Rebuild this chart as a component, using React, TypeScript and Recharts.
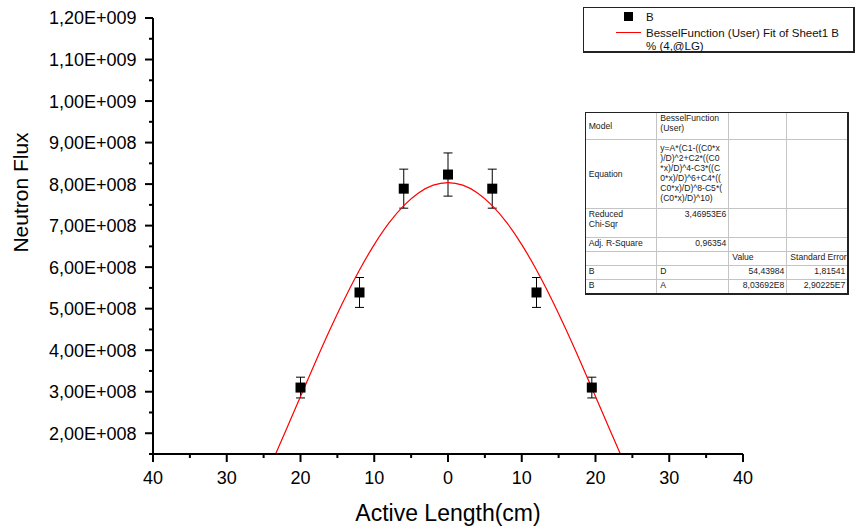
import React from "react";
import {
  ComposedChart,
  Scatter,
  Line,
  XAxis,
  YAxis,
  ErrorBar,
} from "recharts";

// measured flux points (position along the core, flux, error)
const pointX = [-20, -12, -6, 0, 6, 12, 19.5];
const pointY = [3.1e8, 5.39e8, 7.89e8, 8.23e8, 7.89e8, 5.39e8, 3.1e8];
const pointErr = [2.5e7, 3.6e7, 4.7e7, 5.2e7, 4.7e7, 3.6e7, 2.5e7];

// Bessel fit curve
const fitX = [-24, -22, -20, -18, -16, -14, -12, -10, -8, -6, -4, -2, 0, 2, 4, 6, 8, 10, 12, 14, 16, 18, 20, 22, 24];
const fitY = [
  1.246e8, 2.061e8, 2.887e8, 3.704e8, 4.496e8, 5.245e8, 5.932e8, 6.543e8, 7.064e8, 7.482e8, 7.788e8, 7.974e8,
  8.0369e8,
  7.974e8, 7.788e8, 7.482e8, 7.064e8, 6.543e8, 5.932e8, 5.245e8, 4.496e8, 3.704e8, 2.887e8, 2.061e8, 1.246e8,
];

const xTicks = [-40, -35, -30, -25, -20, -15, -10, -5, 0, 5, 10, 15, 20, 25, 30, 35, 40];
const yTicks = [
  1.5e8, 2e8, 2.5e8, 3e8, 3.5e8, 4e8, 4.5e8, 5e8, 5.5e8, 6e8, 6.5e8, 7e8, 7.5e8, 8e8, 8.5e8, 9e8, 9.5e8,
  1e9, 1.05e9, 1.1e9, 1.15e9, 1.2e9,
];

const points = pointX.map((x, i) => ({ x, y: pointY[i], err: pointErr[i] }));
const fitData = fitX.map((x, i) => ({ x, y: fitY[i] }));

const FONT = "'Liberation Sans', Arial, sans-serif";

// 1,20E+009 style
const sci = (v: number) => {
  const exp = Math.floor(Math.log10(v) + 1e-9);
  const mant = v / Math.pow(10, exp);
  return `${mant.toFixed(2).replace(".", ",")}E+${String(exp).padStart(3, "0")}`;
};

const XTick = (props: any) => {
  const { x, y, payload } = props;
  const major = payload.value % 10 === 0;
  return (
    <g>
      <line x1={x} x2={x} y1={y} y2={y + (major ? 8 : 4)} stroke="#000" strokeWidth={2} />
      {major && (
        <text x={x} y={y + 30} textAnchor="middle" fontSize={18} fontFamily={FONT} fill="#000">
          {Math.abs(payload.value)}
        </text>
      )}
    </g>
  );
};

const YTick = (props: any) => {
  const { x, y, payload } = props;
  const r = payload.value / 1e8;
  const major = Math.abs(r - Math.round(r)) < 1e-6;
  return (
    <g>
      <line x1={x - (major ? 8 : 4)} x2={x} y1={y} y2={y} stroke="#000" strokeWidth={2} />
      {major && (
        <text x={x - 16.5} y={y} dy="0.36em" textAnchor="end" fontSize={18} fontFamily={FONT} fill="#000">
          {sci(payload.value)}
        </text>
      )}
    </g>
  );
};

const Square = (props: any) => {
  const { cx, cy } = props;
  return <rect x={cx - 5} y={cy - 5} width={10} height={10} fill="#000" />;
};

// fit results table
const colX = [585.7, 657.3, 729.3, 787.3, 848.3];
const rowY = [113.3, 140, 209.3, 237.7, 251.7, 265.7, 279.7, 294.3];
const tableRows: string[][][] = [
  [["Model"], ["BesselFunction", "(User)"], [], []],
  [
    ["Equation"],
    ["y=A*(C1-((C0*x", ")/D)^2+C2*((C0", "*x)/D)^4-C3*((C", "0*x)/D)^6+C4*((", "C0*x)/D)^8-C5*(", "(C0*x)/D)^10)"],
    [],
    [],
  ],
  [["Reduced", "Chi-Sqr"], ["3,46953E6"], [], []],
  [["Adj. R-Square"], ["0,96354"], [], []],
  [[], [], ["Value"], ["Standard Error"]],
  [["B"], ["D"], ["54,43984"], ["1,81541"]],
  [["B"], ["A"], ["8,03692E8"], ["2,90225E7"]],
];
const rightAligned = (r: number, c: number) =>
  (c === 1 && (r === 2 || r === 3)) || (c >= 2 && r >= 5);

const FitTable = () => (
  <>
    {tableRows.map((row, r) =>
      row.map((lines, c) => {
        const centered = c === 0 && r < 2;
        return (
          <div
            key={`${r}-${c}`}
            style={{
              position: "absolute",
              left: colX[c],
              top: rowY[r],
              width: colX[c + 1] - colX[c],
              height: rowY[r + 1] - rowY[r],
              boxSizing: "border-box",
              borderRight: "1px solid #c4c4c4",
              borderBottom: "1px solid #c4c4c4",
              padding: r === 1 && c === 1 ? "3px 2px 0 3px" : "0 2px 0 3px",
              display: "flex",
              flexDirection: "column",
              justifyContent: centered ? "center" : "flex-start",
              alignItems: rightAligned(r, c) ? "flex-end" : "flex-start",
              fontFamily: FONT,
              fontSize: 8.6,
              lineHeight: "10px",
              color: "#1a1a1a",
              whiteSpace: "nowrap",
              overflow: "hidden",
            }}
          >
            {lines.map((t, i) => (
              <span key={i}>{t}</span>
            ))}
          </div>
        );
      })
    )}
    <div
      style={{
        position: "absolute",
        left: colX[0] - 1,
        top: rowY[0] - 1,
        width: colX[4] - colX[0] + 2,
        height: rowY[7] - rowY[0] + 2,
        boxSizing: "border-box",
        borderTop: "1.5px solid #222",
        borderLeft: "1.5px solid #222",
        borderRight: "2px solid #222",
        borderBottom: "2px solid #222",
      }}
    />
  </>
);

const LegendBox = () => (
  <div style={{ fontFamily: FONT, fontSize: 11.5, color: "#111" }}>
    <div
      style={{
        position: "absolute",
        left: 583,
        top: 6.5,
        width: 271.5,
        height: 46.5,
        boxSizing: "border-box",
        borderTop: "1px solid #222",
        borderLeft: "1px solid #222",
        borderRight: "2px solid #222",
        borderBottom: "2px solid #222",
      }}
    />
    <div style={{ position: "absolute", left: 624, top: 12.3, width: 9, height: 9, background: "#000" }} />
    <div style={{ position: "absolute", left: 646, top: 9.5, lineHeight: "14px" }}>B</div>
    <div style={{ position: "absolute", left: 616, top: 32, width: 25, height: 1, background: "#ff0000" }} />
    <div style={{ position: "absolute", left: 646, top: 25.5, lineHeight: "14px" }}>
      BesselFunction (User) Fit of Sheet1 B
    </div>
    <div style={{ position: "absolute", left: 646, top: 38.5, lineHeight: "14px" }}>% (4,@LG)</div>
  </div>
);

export default function App() {
  return (
    <div style={{ position: "absolute", left: 0, top: 0, width: 858, height: 531, background: "#fff" }}>
      <ComposedChart width={858} height={531} margin={{ top: 18, right: 115, bottom: 0, left: 0 }}>
        <XAxis
          dataKey="x"
          type="number"
          domain={[-40, 40]}
          ticks={xTicks}
          interval={0}
          allowDataOverflow
          height={77}
          tickSize={0}
          tickMargin={0}
          tickLine={false}
          tick={<XTick />}
          axisLine={{ stroke: "#000", strokeWidth: 2 }}
          label={{
            value: "Active Length(cm)",
            position: "insideBottom",
            offset: 10,
            fontSize: 23,
            fontFamily: FONT,
            fill: "#000",
          }}
        />
        <YAxis
          dataKey="y"
          type="number"
          domain={[1.5e8, 1.2e9]}
          ticks={yTicks}
          interval={0}
          allowDataOverflow
          width={153}
          tickSize={0}
          tickMargin={0}
          tickLine={false}
          tick={<YTick />}
          axisLine={{ stroke: "#000", strokeWidth: 2 }}
          label={{
            content: () => (
              <text
                x={28}
                y={192.5}
                transform="rotate(-90 28 192.5)"
                textAnchor="middle"
                fontSize={21}
                fontFamily={FONT}
                fill="#000"
              >
                Neutron Flux
              </text>
            ),
          }}
        />
        <Scatter data={points} dataKey="y" shape={<Square />} isAnimationActive={false}>
          <ErrorBar dataKey="err" direction="y" width={4.5} stroke="#000" strokeWidth={1} />
        </Scatter>
        <Line
          data={fitData}
          dataKey="y"
          type="monotone"
          stroke="#ff0000"
          strokeWidth={1.2}
          dot={false}
          activeDot={false}
          isAnimationActive={false}
        />
      </ComposedChart>
      <LegendBox />
      <FitTable />
    </div>
  );
}
